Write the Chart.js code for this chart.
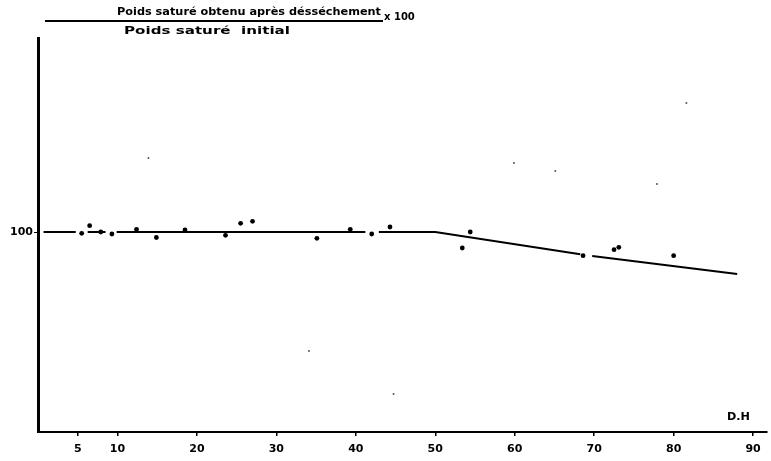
<!DOCTYPE html>
<html>
<head>
<meta charset="utf-8">
<script src="https://cdn.jsdelivr.net/npm/chart.js@4/dist/chart.umd.min.js"></script>
<style>
  html, body { margin: 0; padding: 0; background: #fff; }
  #wrap { width: 771px; height: 461px; }
</style>
</head>
<body>
<div id="wrap"><canvas id="chart" width="771" height="461"></canvas></div>
<script>
// D.H values and measured ratio (% of initial saturated weight)
const pointsDH = [5.5, 6.5, 7.9, 9.3, 12.4, 14.9, 18.5, 23.6, 25.5, 27.0, 35.1, 39.3, 42.0, 44.3, 53.4, 54.4, 68.6, 72.5, 73.1, 80.0];
const pointsVal = [99.87, 100.63, 100.0, 99.8, 100.27, 99.45, 100.2, 99.67, 100.87, 101.07, 99.37, 100.27, 99.8, 100.5, 98.4, 100.0, 97.63, 98.23, 98.47, 97.63];

// fitted trend line (null = break in the drawn line)
const lineDH = [0.7, 4.75, null, 6.25, 8.5, null, 9.9, 41.2, null, 42.9, 50, 68.25, null, 69.75, 88];
const lineVal = [100, 100, null, 100, 100, null, 100, 100, null, 100, 100, 97.78, null, 97.61, 95.8];

// specks from the scanned original
const specksDH = [34.1, 65.1, 59.9, 13.9, 44.75, 81.6, 77.9];
const specksVal = [88.1, 106.1, 106.9, 107.4, 83.8, 112.9, 104.8];

const xTicks = [5, 10, 20, 30, 40, 50, 60, 70, 80, 90];
const yTicks = [100];

const font = "'DejaVu Sans', sans-serif";

function toXY(xs, ys) {
  return xs.map((x, i) => (x === null ? { x: null, y: null } : { x: x, y: ys[i] }));
}

function fitText(ctx, text, x0, x1, y) {
  const w = ctx.measureText(text).width;
  ctx.save();
  ctx.translate(x0, y);
  ctx.scale((x1 - x0) / w, 1);
  ctx.fillText(text, 0, 0);
  ctx.restore();
}

const labelsPlugin = {
  id: "labels",
  afterDraw(chart) {
    const ctx = chart.ctx;
    ctx.save();
    ctx.fillStyle = "#000";
    ctx.textBaseline = "middle";
    ctx.textAlign = "left";
    ctx.font = "bold 11px " + font;
    fitText(ctx, "Poids saturé obtenu après désséchement", 117, 381, 12);
    ctx.font = "bold 10px " + font;
    fitText(ctx, "Poids saturé  initial", 124, 290, 31);
    ctx.fillText("x 100", 384, 17);
    ctx.font = "bold 11px " + font;
    fitText(ctx, "D.H", 727, 750, 417);
    ctx.strokeStyle = "#000";
    ctx.lineWidth = 2;
    ctx.beginPath();
    ctx.moveTo(45, 21);
    ctx.lineTo(383, 21);
    ctx.stroke();
    ctx.restore();
  },
};

new Chart(document.getElementById("chart"), {
  type: "scatter",
  data: {
    datasets: [
      {
        label: "Droite",
        type: "line",
        data: toXY(lineDH, lineVal),
        borderColor: "#000",
        borderWidth: 2,
        pointRadius: 0,
        spanGaps: false,
        tension: 0,
      },
      {
        label: "Mesures",
        data: toXY(pointsDH, pointsVal),
        backgroundColor: "#000",
        borderColor: "#000",
        pointRadius: 2.4,
        borderWidth: 0,
      },
      {
        label: "Taches",
        data: toXY(specksDH, specksVal),
        backgroundColor: "#555",
        borderColor: "#555",
        pointRadius: 1,
        borderWidth: 0,
      },
    ],
  },
  options: {
    responsive: false,
    animation: false,
    devicePixelRatio: 1,
    layout: { padding: { top: 38, right: 0, left: 0, bottom: 0 } },
    plugins: { legend: { display: false }, tooltip: { enabled: false } },
    scales: {
      x: {
        type: "linear",
        min: 0,
        max: 91.75,
        afterBuildTicks: (s) => { s.ticks = xTicks.map((v) => ({ value: v })); },
        afterFit: (s) => { s.height = 29; },
        grid: { drawOnChartArea: false, drawTicks: true, tickLength: 4, color: "#000", lineWidth: 1.5 },
        border: { display: true, color: "#000", width: 2 },
        ticks: { color: "#000", font: { family: font, size: 11, weight: "bold" }, padding: 7, maxRotation: 0, autoSkip: false },
      },
      y: {
        type: "linear",
        min: 80,
        max: 119.4,
        afterBuildTicks: (s) => { s.ticks = yTicks.map((v) => ({ value: v })); },
        afterFit: (s) => { s.width = 38; },
        grid: { drawOnChartArea: false, drawTicks: true, tickLength: 4, color: "#000", lineWidth: 1 },
        border: { display: true, color: "#000", width: 3 },
        ticks: { color: "#000", font: { family: font, size: 11, weight: "bold" }, padding: 1 },
      },
    },
  },
  plugins: [labelsPlugin],
});
</script>
</body>
</html>
